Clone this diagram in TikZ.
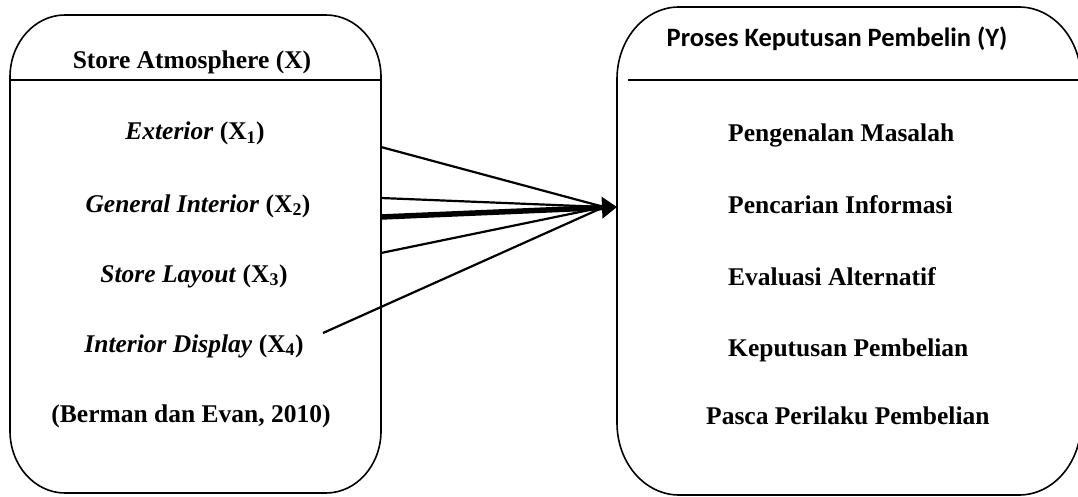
\documentclass[tikz,border=0pt]{standalone}
\usepackage{fontspec}
\setmainfont{Liberation Serif}[
  BoldFont={Liberation Serif Bold},
  ItalicFont={Liberation Serif Italic},
  BoldItalicFont={Liberation Serif Bold Italic}]
\newfontfamily\hdfont{Carlito}
\usetikzlibrary{arrows.meta}
\begin{document}
\begin{tikzpicture}[x=1pt,y=-1pt,
  boxline/.style={line width=1.6pt},
  txt/.style={inner sep=0pt, font=\fontsize{25.5}{30}\selectfont\bfseries},
  hdtxt/.style={inner sep=0pt, font=\hdfont\fontsize{26.5}{30}\selectfont\bfseries},
  link/.style={line width=2.2pt},
  mainlink/.style={line width=5.5pt, -{Triangle[length=15pt,width=21pt]}}]
\useasboundingbox (0,0) rectangle (1078,497);

% left box
\draw[boxline] (10,77) arc[start angle=180,end angle=270,x radius=55,y radius=62]
  -- (326,15) arc[start angle=270,end angle=360,x radius=55,y radius=62]
  -- (381,431) arc[start angle=0,end angle=90,x radius=55,y radius=62]
  -- (65,493) arc[start angle=90,end angle=180,x radius=55,y radius=62]
  -- cycle;
\draw[boxline] (10,80) -- (381,80);

% right box
\draw[boxline] (617,79) arc[start angle=180,end angle=270,x radius=62,y radius=72]
  -- (1019,7) arc[start angle=270,end angle=360,x radius=62,y radius=72]
  -- (1081,423) arc[start angle=0,end angle=90,x radius=62,y radius=72]
  -- (679,495) arc[start angle=90,end angle=180,x radius=62,y radius=72]
  -- cycle;
\draw[boxline] (628,80) -- (1081,80);

% left texts
\node[txt, anchor=base] (hx) at (192,69) {Store Atmosphere (X)};
\node[txt, anchor=base] (x1) at (195,140) {\textit{Exterior} (X\textsubscript{1})};
\node[txt, anchor=base] (x2) at (198,212) {\textit{General Interior} (X\textsubscript{2})};
\node[txt, anchor=base] (x3) at (194,282) {\textit{Store Layout} (X\textsubscript{3})};
\node[txt, anchor=base] (x4) at (194,352) {\textit{Interior Display} (X\textsubscript{4})};
\node[txt, anchor=base] (src) at (191,422) {(Berman dan Evan, 2010)};

% right texts
\node[hdtxt, anchor=base] (hy) at (837,47) {Proses Keputusan Pembelin (Y)};
\node[txt, anchor=base west] (y1) at (728,142) {Pengenalan Masalah};
\node[txt, anchor=base west] (y2) at (728,213) {Pencarian Informasi};
\node[txt, anchor=base west] (y3) at (728,285) {Evaluasi Alternatif};
\node[txt, anchor=base west] (y4) at (728,356) {Keputusan Pembelian};
\node[txt, anchor=base west] (y5) at (706,424) {Pasca Perilaku Pembelian};

% connectors
\coordinate (s1) at (381,147);
\coordinate (s2) at (381,198);
\coordinate (s3) at (381,217);
\coordinate (s4) at (381,253);
\coordinate (s5) at (323,333);
\coordinate (tip) at (617,207);
\coordinate (meet) at (604,207);
\draw[link] (s1) -- (meet);
\draw[link] (s2) -- (meet);
\draw[link] (s4) -- (meet);
\draw[link] (s5) -- (meet);
\draw[mainlink] (s3) -- (tip);
\end{tikzpicture}
\end{document}
